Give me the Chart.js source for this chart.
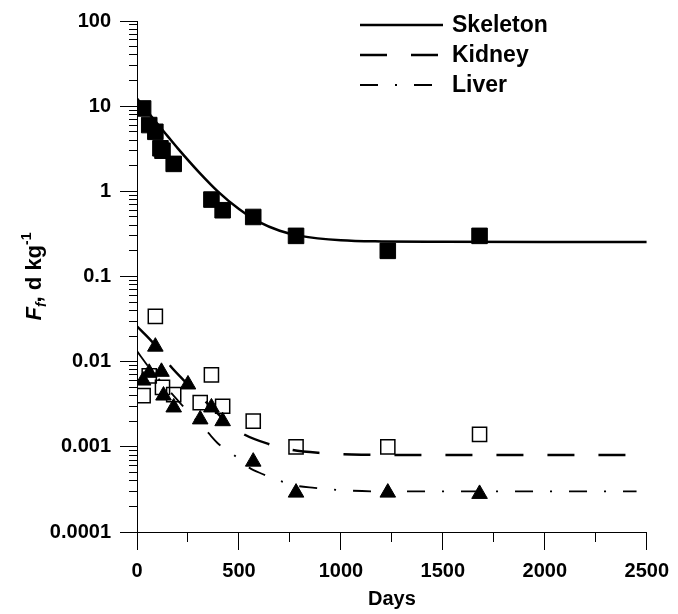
<!DOCTYPE html>
<html>
<head>
<meta charset="utf-8">
<script src="https://cdn.jsdelivr.net/npm/chart.js@4.4.1/dist/chart.umd.min.js"></script>
<style>
  html, body { margin: 0; padding: 0; background: #fff; }
  #wrap { width: 678px; height: 614px; }
</style>
</head>
<body>
<div id="wrap"><canvas id="myChart" width="678" height="614"></canvas></div>
<script>
// measured points (days after intake, F_f in d kg-1)
const skeletonDays = [30, 60, 90, 115, 125, 180, 365, 420, 570, 780, 1230, 1680];
const skeletonVals = [9.4, 6.0, 5.0, 3.2, 3.0, 2.1, 0.8, 0.6, 0.5, 0.3, 0.2, 0.3];

const kidneyDays = [30, 60, 90, 125, 180, 310, 365, 420, 570, 780, 1230, 1680];
const kidneyVals = [0.004, 0.0068, 0.034, 0.005, 0.0041, 0.0033, 0.007, 0.003, 0.002, 0.001, 0.001, 0.0014];

const liverDays = [30, 60, 90, 120, 130, 180, 250, 310, 365, 420, 570, 780, 1230, 1680];
const liverVals = [0.006, 0.0074, 0.015, 0.0076, 0.004, 0.0029, 0.0054, 0.0021, 0.0029, 0.002, 0.00067, 0.00029, 0.00029, 0.00028];

// fitted curves
const skeletonFitDays = [0, 50, 100, 150, 200, 300, 400, 500, 600, 700, 800, 1000, 1200, 1500, 2000, 2500];
const skeletonFitVals = [12.3, 8.7, 6.2, 4.45, 3.2, 1.72, 0.98, 0.62, 0.435, 0.345, 0.30, 0.266, 0.258, 0.256, 0.255, 0.255];

const kidneyFitDays = [0, 85, 160, 250, 360, 450, 525, 645, 760, 890, 1100, 1500, 2400];
const kidneyFitVals = [0.026, 0.016, 0.0091, 0.0054, 0.0030, 0.00185, 0.0014, 0.00108, 0.00092, 0.00085, 0.00081, 0.0008, 0.0008];

const liverFitDays = [0, 60, 160, 215, 345, 400, 470, 550, 615, 700, 780, 870, 1000, 1200, 2450];
const liverFitVals = [0.0133, 0.0085, 0.0045, 0.0032, 0.0015, 0.00108, 0.00082, 0.00057, 0.00048, 0.0004, 0.00035, 0.00033, 0.00031, 0.0003, 0.0003];

const curveNames = ["Skeleton", "Kidney", "Liver"];
const xTickLabels = ["0", "500", "1000", "1500", "2000", "2500"];
const yTickLabels = ["0.0001", "0.001", "0.01", "0.1", "1", "10", "100"];

const FONT = '"Liberation Sans", Arial, sans-serif';

function toPoints(xs, ys) {
  return xs.map((x, i) => ({x: x, y: ys[i]}));
}

function curve(label, xs, ys, width, dash) {
  return {
    label: label,
    data: toPoints(xs, ys),
    showLine: true,
    borderColor: '#000',
    borderWidth: width,
    borderDash: dash,
    pointRadius: 0,
    cubicInterpolationMode: 'monotone',
    order: 1
  };
}

// legend in the top right corner, drawn from the line datasets
const curveLegend = {
  id: 'curveLegend',
  afterDraw(chart) {
    const ctx = chart.ctx;
    ctx.save();
    curveNames.forEach((name, i) => {
      const ds = chart.data.datasets[i];
      const y = 25 + i * 30;
      ctx.beginPath();
      ctx.setLineDash(ds.borderDash);
      ctx.lineWidth = ds.borderWidth;
      ctx.strokeStyle = '#000';
      ctx.moveTo(360, y);
      ctx.lineTo(443, y);
      ctx.stroke();
      ctx.setLineDash([]);
      ctx.fillStyle = '#000';
      ctx.font = 'bold 23px ' + FONT;
      ctx.textBaseline = 'middle';
      ctx.fillText(name, 452, y + 1);
    });
    ctx.restore();
  }
};

// y title with italic F, subscript f and superscript -1
const yTitle = {
  id: 'yTitle',
  afterDraw(chart) {
    const ctx = chart.ctx;
    const area = chart.chartArea;
    const parts = [
      {t: 'F', font: 'italic bold 22px ' + FONT, dy: 0},
      {t: 'f', font: 'italic bold 14px ' + FONT, dy: 5},
      {t: ', d kg', font: 'bold 22px ' + FONT, dy: 0},
      {t: '-1', font: 'bold 14px ' + FONT, dy: -10}
    ];
    ctx.save();
    let total = 0;
    parts.forEach(p => { ctx.font = p.font; p.w = ctx.measureText(p.t).width; total += p.w; });
    ctx.translate(41, (area.top + area.bottom) / 2);
    ctx.rotate(-Math.PI / 2);
    ctx.fillStyle = '#000';
    ctx.textBaseline = 'alphabetic';
    let x = -total / 2;
    parts.forEach(p => {
      ctx.font = p.font;
      ctx.fillText(p.t, x, p.dy);
      x += p.w;
    });
    ctx.restore();
  }
};

new Chart("myChart", {
  type: "scatter",
  data: {
    datasets: [
      curve(curveNames[0], skeletonFitDays, skeletonFitVals, 2.5, []),
      curve(curveNames[1], kidneyFitDays, kidneyFitVals, 2.5, [27, 24]),
      curve(curveNames[2], liverFitDays, liverFitVals, 1.8, [18, 17, 2, 17]),
      {
        label: 'Skeleton data',
        data: toPoints(skeletonDays, skeletonVals),
        pointStyle: 'rect',
        pointRadius: 11,
        backgroundColor: '#000',
        borderColor: '#000',
        borderWidth: 1,
        order: 2
      },
      {
        label: 'Kidney data',
        data: toPoints(kidneyDays, kidneyVals),
        pointStyle: 'rect',
        pointRadius: 10,
        backgroundColor: 'rgba(0,0,0,0)',
        borderColor: '#000',
        borderWidth: 1.5,
        order: 2
      },
      {
        label: 'Liver data',
        data: toPoints(liverDays, liverVals),
        pointStyle: 'triangle',
        pointRadius: 9,
        backgroundColor: '#000',
        borderColor: '#000',
        borderWidth: 1,
        order: 2
      }
    ]
  },
  options: {
    responsive: false,
    animation: false,
    events: [],
    layout: {padding: {left: 0, top: 19, right: 28.5, bottom: 0}},
    plugins: {
      legend: {display: false},
      tooltip: {enabled: false}
    },
    scales: {
      x: {
        type: 'linear',
        min: 0,
        max: 2500,
        afterFit: (scale) => { scale.height = 82; },
        border: {display: true, color: '#000', width: 1},
        grid: {
          drawOnChartArea: false,
          drawTicks: true,
          tickLength: 18,
          tickColor: '#000',
          tickWidth: 1,
          tickBorderDash: (c) => (c.tick && c.tick.value % 500 !== 0) ? [9, 100] : []
        },
        ticks: {
          stepSize: 250,
          autoSkip: false,
          maxRotation: 0,
          padding: 9,
          color: '#000',
          font: {family: FONT, size: 20, weight: 'bold'},
          callback: (v) => v % 500 === 0 ? xTickLabels[v / 500] : ''
        },
        title: {
          display: true,
          text: 'Days',
          color: '#000',
          font: {family: FONT, size: 20, weight: 'bold'},
          padding: {top: 0, bottom: 3}
        }
      },
      y: {
        type: 'logarithmic',
        min: 0.0001,
        max: 100,
        afterFit: (scale) => { scale.width = 137; },
        afterBuildTicks: (scale) => {
          const ticks = [];
          for (let e = -4; e <= 2; e++) {
            for (let m = 1; m <= 9; m++) {
              const v = Number((m * Math.pow(10, e)).toPrecision(3));
              if (v > 100) break;
              ticks.push({value: v, major: m === 1});
            }
          }
          scale.ticks = ticks;
        },
        border: {display: true, color: '#000', width: 1},
        grid: {
          drawOnChartArea: false,
          drawTicks: true,
          tickLength: 17,
          tickColor: '#000',
          tickWidth: 1,
          tickBorderDash: (c) => (c.tick && !c.tick.major) ? [0, 9, 8, 100] : []
        },
        ticks: {
          autoSkip: false,
          padding: 9,
          color: '#000',
          font: {family: FONT, size: 20, weight: 'bold'},
          callback: (v, i, ticks) => ticks[i].major ? yTickLabels[Math.round(Math.log10(v)) + 4] : ''
        }
      }
    }
  },
  plugins: [curveLegend, yTitle]
});
</script>
</body>
</html>
